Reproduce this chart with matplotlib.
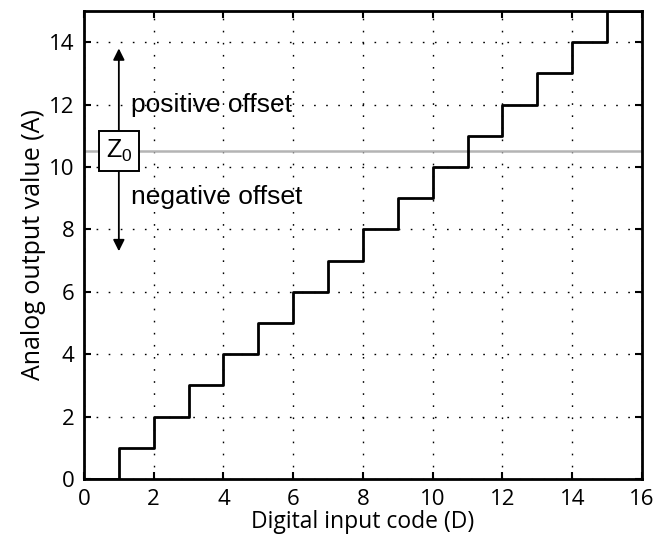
import matplotlib
matplotlib.use("Agg")
import matplotlib.pyplot as plt
import numpy as np

# Ideal DAC transfer: output level for each digital input code
codes = list(range(0, 17))
levels = list(range(0, 16)) + [15]

zero_level = 10.5          # reference level Z0
arrow_x = 1.0              # horizontal position of the offset arrow
arrow_top = 13.8
arrow_bottom = 7.3

x_ticks = list(range(0, 17, 2))
y_ticks = list(range(0, 15, 2))

plt.rcParams['mathtext.fontset'] = 'custom'
plt.rcParams['mathtext.rm'] = 'Liberation Sans'
plt.rcParams['mathtext.it'] = 'Liberation Sans'

tick_font = 'Open Sans'
note_font = 'Liberation Sans'

fig = plt.figure(figsize=(6.54, 5.44), dpi=100)
ax = fig.add_axes([0.1284, 0.1195, 0.8532, 0.8603])

ax.set_xlim(0, 16)
ax.set_ylim(0, 15)

# dotted grid
ax.set_xticks(x_ticks)
ax.set_yticks(y_ticks)
ax.grid(True, color='black', linestyle=(0, (1.2, 7.5)), linewidth=1.0)
ax.set_axisbelow(True)

# reference line
ax.axhline(zero_level, color='#b4b4b4', linewidth=1.8, zorder=2)

# staircase
ax.step(codes, levels, where='post', color='black', linewidth=2.0, zorder=3)

# offset arrow and label box
ax.annotate('', xy=(arrow_x, arrow_top), xytext=(arrow_x, arrow_bottom),
            arrowprops=dict(arrowstyle='<|-|>', color='black', lw=1.3,
                            mutation_scale=17, shrinkA=0, shrinkB=0),
            zorder=4)
ax.text(arrow_x, zero_level, r'$\mathregular{Z_0}$', fontsize=18,
        family=note_font, ha='center', va='center', zorder=5,
        bbox=dict(boxstyle='square,pad=0.28', fc='white', ec='black', lw=1.4))

ax.text(1.35, 12.0, 'positive offset', fontsize=19, family=note_font,
        ha='left', va='center', zorder=5)
ax.text(1.35, 9.05, 'negative offset', fontsize=19, family=note_font,
        ha='left', va='center', zorder=5)

for s in ax.spines.values():
    s.set_linewidth(2.0)

ax.tick_params(direction='in', top=True, right=True, length=5, width=1.5,
               labelsize=16, pad=7)
for lab in ax.get_xticklabels() + ax.get_yticklabels():
    lab.set_family(tick_font)

ax.set_xlabel('Digital input code (D)', fontsize=16.5, family=tick_font, labelpad=0)
ax.set_ylabel('Analog output value (A)', fontsize=18, family=tick_font, labelpad=2)

fig.savefig('out.png', dpi=100)
